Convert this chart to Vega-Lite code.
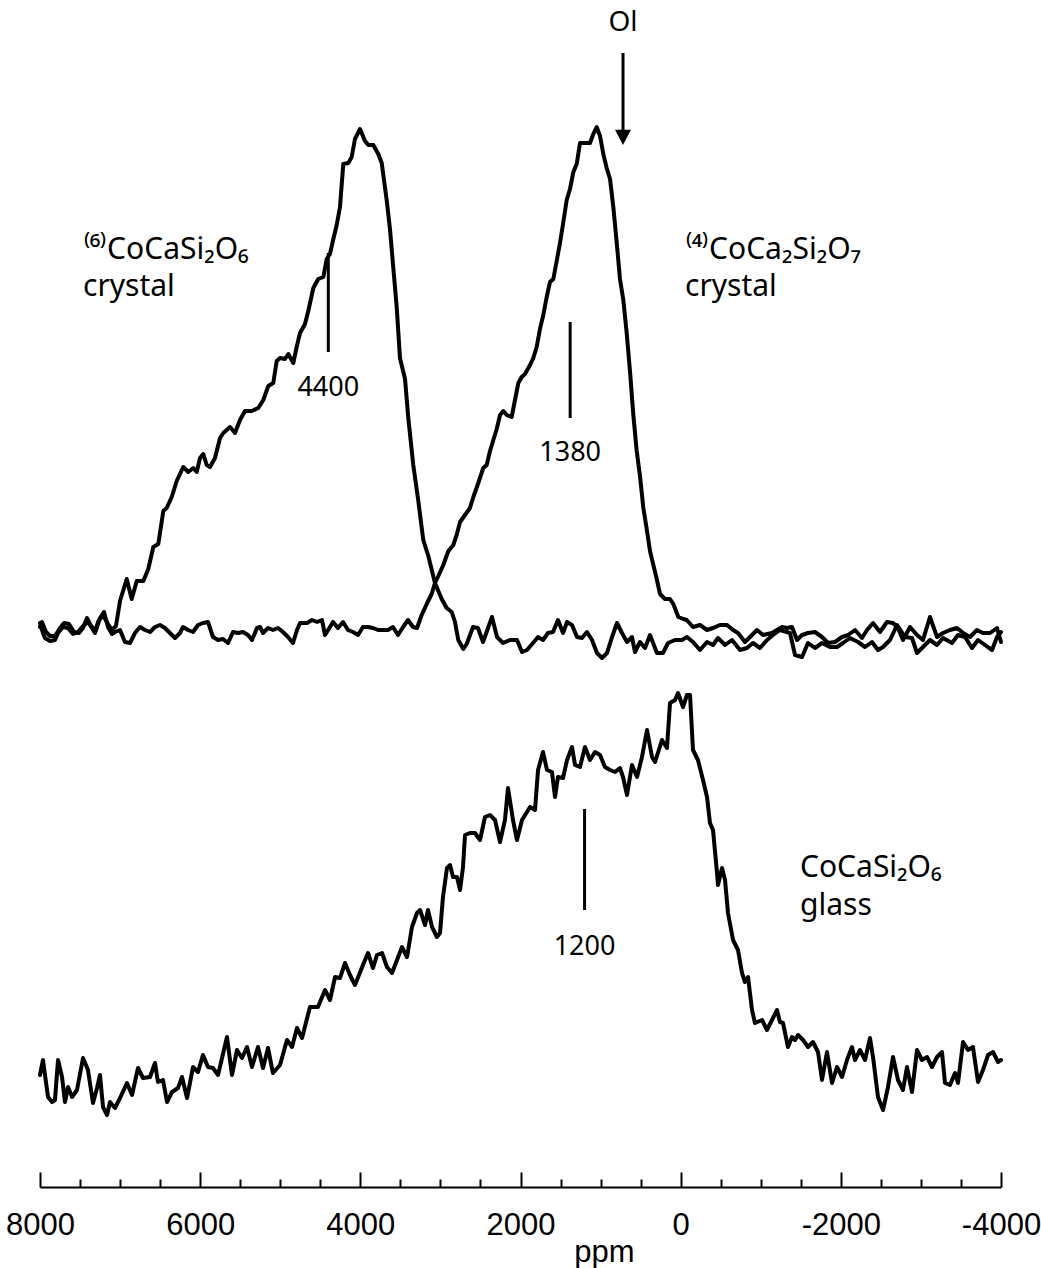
{
  "$schema": "https://vega.github.io/schema/vega-lite/v6.json",
  "width": 961,
  "height": 1187,
  "autosize": {"type": "none"},
  "padding": {"left": 40, "right": 40, "top": 0, "bottom": 81},
  "background": "white",
  "config": {"view": {"stroke": null}},
  "datasets": {
    "spectra": [
      {"spectrum":"Co6","ppm":8000,"intensity":5.64},{"spectrum":"Co6","ppm":7975,"intensity":5.57},{"spectrum":"Co6","ppm":7938,"intensity":5.49},{"spectrum":"Co6","ppm":7875,"intensity":5.46},{"spectrum":"Co6","ppm":7813,"intensity":5.47},{"spectrum":"Co6","ppm":7775,"intensity":5.54},{"spectrum":"Co6","ppm":7713,"intensity":5.60},{"spectrum":"Co6","ppm":7650,"intensity":5.59},{"spectrum":"Co6","ppm":7588,"intensity":5.53},{"spectrum":"Co6","ppm":7525,"intensity":5.55},{"spectrum":"Co6","ppm":7463,"intensity":5.61},{"spectrum":"Co6","ppm":7401,"intensity":5.65},{"spectrum":"Co6","ppm":7351,"intensity":5.59},{"spectrum":"Co6","ppm":7313,"intensity":5.54},{"spectrum":"Co6","ppm":7276,"intensity":5.65},{"spectrum":"Co6","ppm":7213,"intensity":5.72},{"spectrum":"Co6","ppm":7151,"intensity":5.63},{"spectrum":"Co6","ppm":7101,"intensity":5.57},{"spectrum":"Co6","ppm":7051,"intensity":5.61},
      {"spectrum":"Co6","ppm":7001,"intensity":5.86},{"spectrum":"Co6","ppm":6917,"intensity":6.08},{"spectrum":"Co6","ppm":6855,"intensity":5.88},{"spectrum":"Co6","ppm":6792,"intensity":6.06},{"spectrum":"Co6","ppm":6710,"intensity":6.06},{"spectrum":"Co6","ppm":6648,"intensity":6.18},{"spectrum":"Co6","ppm":6585,"intensity":6.40},{"spectrum":"Co6","ppm":6523,"intensity":6.43},{"spectrum":"Co6","ppm":6460,"intensity":6.76},{"spectrum":"Co6","ppm":6418,"intensity":6.79},{"spectrum":"Co6","ppm":6355,"intensity":6.90},{"spectrum":"Co6","ppm":6293,"intensity":7.06},{"spectrum":"Co6","ppm":6211,"intensity":7.20},{"spectrum":"Co6","ppm":6148,"intensity":7.15},{"spectrum":"Co6","ppm":6086,"intensity":7.19},{"spectrum":"Co6","ppm":6043,"intensity":7.15},{"spectrum":"Co6","ppm":6002,"intensity":7.29},{"spectrum":"Co6","ppm":5961,"intensity":7.33},{"spectrum":"Co6","ppm":5918,"intensity":7.22},{"spectrum":"Co6","ppm":5877,"intensity":7.20},{"spectrum":"Co6","ppm":5815,"intensity":7.29},{"spectrum":"Co6","ppm":5752,"intensity":7.49},{"spectrum":"Co6","ppm":5711,"intensity":7.54},{"spectrum":"Co6","ppm":5627,"intensity":7.60},{"spectrum":"Co6","ppm":5565,"intensity":7.54},{"spectrum":"Co6","ppm":5503,"intensity":7.67},{"spectrum":"Co6","ppm":5440,"intensity":7.76},{"spectrum":"Co6","ppm":5357,"intensity":7.76},{"spectrum":"Co6","ppm":5274,"intensity":7.79},{"spectrum":"Co6","ppm":5212,"intensity":7.87},{"spectrum":"Co6","ppm":5149,"intensity":8.01},{"spectrum":"Co6","ppm":5087,"intensity":8.04},{"spectrum":"Co6","ppm":5044,"intensity":8.26},{"spectrum":"Co6","ppm":5003,"intensity":8.29},{"spectrum":"Co6","ppm":4941,"intensity":8.28},{"spectrum":"Co6","ppm":4899,"intensity":8.33},{"spectrum":"Co6","ppm":4837,"intensity":8.24},{"spectrum":"Co6","ppm":4795,"intensity":8.40},{"spectrum":"Co6","ppm":4753,"intensity":8.54},{"spectrum":"Co6","ppm":4691,"intensity":8.63},{"spectrum":"Co6","ppm":4650,"intensity":8.76},{"spectrum":"Co6","ppm":4587,"intensity":8.99},{"spectrum":"Co6","ppm":4525,"intensity":9.08},{"spectrum":"Co6","ppm":4462,"intensity":9.10},{"spectrum":"Co6","ppm":4420,"intensity":9.28},{"spectrum":"Co6","ppm":4379,"intensity":9.33},{"spectrum":"Co6","ppm":4337,"intensity":9.48},{"spectrum":"Co6","ppm":4295,"intensity":9.62},{"spectrum":"Co6","ppm":4254,"intensity":9.80},{"spectrum":"Co6","ppm":4213,"intensity":10.23},{"spectrum":"Co6","ppm":4150,"intensity":10.24},{"spectrum":"Co6","ppm":4108,"intensity":10.30},{"spectrum":"Co6","ppm":4067,"intensity":10.48},{"spectrum":"Co6","ppm":4004,"intensity":10.58},{"spectrum":"Co6","ppm":3942,"intensity":10.46},{"spectrum":"Co6","ppm":3900,"intensity":10.42},{"spectrum":"Co6","ppm":3838,"intensity":10.42},{"spectrum":"Co6","ppm":3776,"intensity":10.33},{"spectrum":"Co6","ppm":3733,"intensity":10.24},{"spectrum":"Co6","ppm":3671,"intensity":9.87},{"spectrum":"Co6","ppm":3630,"intensity":9.58},{"spectrum":"Co6","ppm":3588,"intensity":9.19},{"spectrum":"Co6","ppm":3546,"intensity":8.80},{"spectrum":"Co6","ppm":3505,"intensity":8.29},{"spectrum":"Co6","ppm":3442,"intensity":8.08},{"spectrum":"Co6","ppm":3401,"intensity":7.69},{"spectrum":"Co6","ppm":3339,"intensity":7.22},{"spectrum":"Co6","ppm":3276,"intensity":6.86},{"spectrum":"Co6","ppm":3214,"intensity":6.47},{"spectrum":"Co6","ppm":3151,"intensity":6.31},{"spectrum":"Co6","ppm":3068,"intensity":6.04},{"spectrum":"Co6","ppm":2984,"intensity":5.88},{"spectrum":"Co6","ppm":2922,"intensity":5.79},{"spectrum":"Co6","ppm":2859,"intensity":5.75},{"spectrum":"Co6","ppm":2818,"intensity":5.65},{"spectrum":"Co6","ppm":2777,"intensity":5.47},{"spectrum":"Co6","ppm":2714,"intensity":5.38},{"spectrum":"Co6","ppm":2672,"intensity":5.43},
      {"spectrum":"Co6","ppm":2593,"intensity":5.60},{"spectrum":"Co6","ppm":2531,"intensity":5.59},{"spectrum":"Co6","ppm":2468,"intensity":5.45},{"spectrum":"Co6","ppm":2356,"intensity":5.70},{"spectrum":"Co6","ppm":2293,"intensity":5.50},{"spectrum":"Co6","ppm":2219,"intensity":5.44},{"spectrum":"Co6","ppm":2131,"intensity":5.47},{"spectrum":"Co6","ppm":2044,"intensity":5.47},{"spectrum":"Co6","ppm":1981,"intensity":5.35},{"spectrum":"Co6","ppm":1919,"intensity":5.37},{"spectrum":"Co6","ppm":1844,"intensity":5.44},{"spectrum":"Co6","ppm":1781,"intensity":5.50},{"spectrum":"Co6","ppm":1719,"intensity":5.47},{"spectrum":"Co6","ppm":1657,"intensity":5.54},{"spectrum":"Co6","ppm":1594,"intensity":5.55},{"spectrum":"Co6","ppm":1532,"intensity":5.67},{"spectrum":"Co6","ppm":1469,"intensity":5.54},{"spectrum":"Co6","ppm":1419,"intensity":5.65},{"spectrum":"Co6","ppm":1357,"intensity":5.62},{"spectrum":"Co6","ppm":1294,"intensity":5.50},{"spectrum":"Co6","ppm":1232,"intensity":5.49},{"spectrum":"Co6","ppm":1170,"intensity":5.55},{"spectrum":"Co6","ppm":1107,"intensity":5.47},{"spectrum":"Co6","ppm":1045,"intensity":5.34},{"spectrum":"Co6","ppm":982,"intensity":5.29},{"spectrum":"Co6","ppm":920,"intensity":5.34},{"spectrum":"Co6","ppm":857,"intensity":5.50},{"spectrum":"Co6","ppm":795,"intensity":5.64},{"spectrum":"Co6","ppm":733,"intensity":5.54},{"spectrum":"Co6","ppm":670,"intensity":5.45},{"spectrum":"Co6","ppm":608,"intensity":5.50},{"spectrum":"Co6","ppm":570,"intensity":5.35},{"spectrum":"Co6","ppm":508,"intensity":5.45},{"spectrum":"Co6","ppm":445,"intensity":5.39},{"spectrum":"Co6","ppm":383,"intensity":5.52},{"spectrum":"Co6","ppm":296,"intensity":5.34},{"spectrum":"Co6","ppm":221,"intensity":5.34},{"spectrum":"Co6","ppm":158,"intensity":5.44},{"spectrum":"Co6","ppm":71,"intensity":5.47},{"spectrum":"Co6","ppm":-17,"intensity":5.47},{"spectrum":"Co6","ppm":-79,"intensity":5.50},{"spectrum":"Co6","ppm":-154,"intensity":5.45},{"spectrum":"Co6","ppm":-241,"intensity":5.37},{"spectrum":"Co6","ppm":-329,"intensity":5.45},{"spectrum":"Co6","ppm":-404,"intensity":5.42},{"spectrum":"Co6","ppm":-466,"intensity":5.49},{"spectrum":"Co6","ppm":-554,"intensity":5.42},{"spectrum":"Co6","ppm":-641,"intensity":5.47},{"spectrum":"Co6","ppm":-741,"intensity":5.37},{"spectrum":"Co6","ppm":-828,"intensity":5.39},{"spectrum":"Co6","ppm":-903,"intensity":5.44},{"spectrum":"Co6","ppm":-991,"intensity":5.39},{"spectrum":"Co6","ppm":-1078,"intensity":5.47},{"spectrum":"Co6","ppm":-1153,"intensity":5.52},{"spectrum":"Co6","ppm":-1240,"intensity":5.57},{"spectrum":"Co6","ppm":-1365,"intensity":5.54},{"spectrum":"Co6","ppm":-1428,"intensity":5.32},{"spectrum":"Co6","ppm":-1515,"intensity":5.30},{"spectrum":"Co6","ppm":-1590,"intensity":5.44},{"spectrum":"Co6","ppm":-1677,"intensity":5.39},{"spectrum":"Co6","ppm":-1765,"intensity":5.44},{"spectrum":"Co6","ppm":-1865,"intensity":5.40},{"spectrum":"Co6","ppm":-1952,"intensity":5.40},{"spectrum":"Co6","ppm":-2027,"intensity":5.44},{"spectrum":"Co6","ppm":-2114,"intensity":5.49},{"spectrum":"Co6","ppm":-2214,"intensity":5.45},{"spectrum":"Co6","ppm":-2302,"intensity":5.40},{"spectrum":"Co6","ppm":-2389,"intensity":5.45},{"spectrum":"Co6","ppm":-2464,"intensity":5.37},{"spectrum":"Co6","ppm":-2527,"intensity":5.40},{"spectrum":"Co6","ppm":-2614,"intensity":5.47},{"spectrum":"Co6","ppm":-2702,"intensity":5.62},{"spectrum":"Co6","ppm":-2801,"intensity":5.50},{"spectrum":"Co6","ppm":-2889,"intensity":5.49},{"spectrum":"Co6","ppm":-2951,"intensity":5.34},{"spectrum":"Co6","ppm":-3026,"intensity":5.40},{"spectrum":"Co6","ppm":-3113,"intensity":5.47},{"spectrum":"Co6","ppm":-3201,"intensity":5.42},{"spectrum":"Co6","ppm":-3276,"intensity":5.49},{"spectrum":"Co6","ppm":-3388,"intensity":5.44},{"spectrum":"Co6","ppm":-3463,"intensity":5.52},{"spectrum":"Co6","ppm":-3550,"intensity":5.50},{"spectrum":"Co6","ppm":-3638,"intensity":5.39},{"spectrum":"Co6","ppm":-3713,"intensity":5.47},{"spectrum":"Co6","ppm":-3800,"intensity":5.42},{"spectrum":"Co6","ppm":-3888,"intensity":5.37},{"spectrum":"Co6","ppm":-3950,"intensity":5.50},{"spectrum":"Co6","ppm":-4000,"intensity":5.55},

      {"spectrum":"Co4","ppm":8000,"intensity":5.60},{"spectrum":"Co4","ppm":7975,"intensity":5.65},{"spectrum":"Co4","ppm":7925,"intensity":5.55},{"spectrum":"Co4","ppm":7875,"intensity":5.51},{"spectrum":"Co4","ppm":7813,"intensity":5.51},{"spectrum":"Co4","ppm":7750,"intensity":5.59},{"spectrum":"Co4","ppm":7700,"intensity":5.64},{"spectrum":"Co4","ppm":7638,"intensity":5.63},{"spectrum":"Co4","ppm":7575,"intensity":5.55},{"spectrum":"Co4","ppm":7513,"intensity":5.54},{"spectrum":"Co4","ppm":7463,"intensity":5.59},{"spectrum":"Co4","ppm":7413,"intensity":5.69},{"spectrum":"Co4","ppm":7363,"intensity":5.61},{"spectrum":"Co4","ppm":7301,"intensity":5.57},{"spectrum":"Co4","ppm":7251,"intensity":5.69},{"spectrum":"Co4","ppm":7201,"intensity":5.75},{"spectrum":"Co4","ppm":7151,"intensity":5.60},{"spectrum":"Co4","ppm":7101,"intensity":5.53},{"spectrum":"Co4","ppm":7063,"intensity":5.55},{"spectrum":"Co4","ppm":7001,"intensity":5.57},{"spectrum":"Co4","ppm":6939,"intensity":5.45},{"spectrum":"Co4","ppm":6876,"intensity":5.44},{"spectrum":"Co4","ppm":6814,"intensity":5.54},{"spectrum":"Co4","ppm":6751,"intensity":5.60},{"spectrum":"Co4","ppm":6689,"intensity":5.57},{"spectrum":"Co4","ppm":6626,"intensity":5.55},{"spectrum":"Co4","ppm":6564,"intensity":5.60},{"spectrum":"Co4","ppm":6502,"intensity":5.62},{"spectrum":"Co4","ppm":6439,"intensity":5.59},{"spectrum":"Co4","ppm":6377,"intensity":5.54},{"spectrum":"Co4","ppm":6314,"intensity":5.49},{"spectrum":"Co4","ppm":6252,"intensity":5.54},{"spectrum":"Co4","ppm":6214,"intensity":5.60},{"spectrum":"Co4","ppm":6152,"intensity":5.57},{"spectrum":"Co4","ppm":6089,"intensity":5.55},{"spectrum":"Co4","ppm":6027,"intensity":5.62},{"spectrum":"Co4","ppm":5965,"intensity":5.64},{"spectrum":"Co4","ppm":5902,"intensity":5.65},{"spectrum":"Co4","ppm":5840,"intensity":5.50},{"spectrum":"Co4","ppm":5777,"intensity":5.47},{"spectrum":"Co4","ppm":5715,"intensity":5.48},{"spectrum":"Co4","ppm":5652,"intensity":5.44},{"spectrum":"Co4","ppm":5590,"intensity":5.55},{"spectrum":"Co4","ppm":5528,"intensity":5.54},{"spectrum":"Co4","ppm":5465,"intensity":5.55},{"spectrum":"Co4","ppm":5403,"intensity":5.52},{"spectrum":"Co4","ppm":5353,"intensity":5.47},{"spectrum":"Co4","ppm":5290,"intensity":5.59},{"spectrum":"Co4","ppm":5253,"intensity":5.60},{"spectrum":"Co4","ppm":5215,"intensity":5.54},{"spectrum":"Co4","ppm":5153,"intensity":5.59},{"spectrum":"Co4","ppm":5091,"intensity":5.57},{"spectrum":"Co4","ppm":5028,"intensity":5.59},{"spectrum":"Co4","ppm":4966,"intensity":5.55},{"spectrum":"Co4","ppm":4903,"intensity":5.50},{"spectrum":"Co4","ppm":4841,"intensity":5.44},{"spectrum":"Co4","ppm":4791,"intensity":5.57},{"spectrum":"Co4","ppm":4753,"intensity":5.64},{"spectrum":"Co4","ppm":4666,"intensity":5.64},{"spectrum":"Co4","ppm":4604,"intensity":5.67},{"spectrum":"Co4","ppm":4541,"intensity":5.65},{"spectrum":"Co4","ppm":4479,"intensity":5.67},{"spectrum":"Co4","ppm":4441,"intensity":5.52},{"spectrum":"Co4","ppm":4379,"intensity":5.60},{"spectrum":"Co4","ppm":4341,"intensity":5.65},{"spectrum":"Co4","ppm":4279,"intensity":5.59},{"spectrum":"Co4","ppm":4216,"intensity":5.65},{"spectrum":"Co4","ppm":4154,"intensity":5.57},{"spectrum":"Co4","ppm":4092,"intensity":5.55},{"spectrum":"Co4","ppm":4029,"intensity":5.52},{"spectrum":"Co4","ppm":3967,"intensity":5.60},{"spectrum":"Co4","ppm":3904,"intensity":5.60},{"spectrum":"Co4","ppm":3842,"intensity":5.59},{"spectrum":"Co4","ppm":3779,"intensity":5.57},{"spectrum":"Co4","ppm":3717,"intensity":5.57},{"spectrum":"Co4","ppm":3655,"intensity":5.57},{"spectrum":"Co4","ppm":3592,"intensity":5.60},{"spectrum":"Co4","ppm":3530,"intensity":5.52},{"spectrum":"Co4","ppm":3467,"intensity":5.60},{"spectrum":"Co4","ppm":3405,"intensity":5.67},{"spectrum":"Co4","ppm":3342,"intensity":5.60},{"spectrum":"Co4","ppm":3292,"intensity":5.59},
      {"spectrum":"Co4","ppm":3234,"intensity":5.72},{"spectrum":"Co4","ppm":3171,"intensity":5.83},{"spectrum":"Co4","ppm":3109,"intensity":5.93},{"spectrum":"Co4","ppm":3068,"intensity":6.04},{"spectrum":"Co4","ppm":3026,"intensity":6.11},{"spectrum":"Co4","ppm":2964,"intensity":6.22},{"spectrum":"Co4","ppm":2901,"intensity":6.36},{"spectrum":"Co4","ppm":2839,"intensity":6.42},{"spectrum":"Co4","ppm":2797,"intensity":6.52},{"spectrum":"Co4","ppm":2755,"intensity":6.65},{"spectrum":"Co4","ppm":2693,"intensity":6.72},{"spectrum":"Co4","ppm":2631,"intensity":6.79},{"spectrum":"Co4","ppm":2589,"intensity":6.90},{"spectrum":"Co4","ppm":2527,"intensity":7.04},{"spectrum":"Co4","ppm":2465,"intensity":7.19},{"spectrum":"Co4","ppm":2422,"intensity":7.22},{"spectrum":"Co4","ppm":2381,"intensity":7.36},{"spectrum":"Co4","ppm":2339,"intensity":7.47},{"spectrum":"Co4","ppm":2297,"intensity":7.58},{"spectrum":"Co4","ppm":2256,"intensity":7.72},{"spectrum":"Co4","ppm":2215,"intensity":7.76},{"spectrum":"Co4","ppm":2172,"intensity":7.72},{"spectrum":"Co4","ppm":2110,"intensity":7.70},{"spectrum":"Co4","ppm":2069,"intensity":7.87},{"spectrum":"Co4","ppm":2027,"intensity":8.04},{"spectrum":"Co4","ppm":1985,"intensity":8.10},{"spectrum":"Co4","ppm":1944,"intensity":8.13},{"spectrum":"Co4","ppm":1881,"intensity":8.22},{"spectrum":"Co4","ppm":1840,"intensity":8.29},{"spectrum":"Co4","ppm":1798,"intensity":8.40},{"spectrum":"Co4","ppm":1757,"intensity":8.58},{"spectrum":"Co4","ppm":1715,"intensity":8.72},{"spectrum":"Co4","ppm":1673,"intensity":8.90},{"spectrum":"Co4","ppm":1632,"intensity":9.05},{"spectrum":"Co4","ppm":1590,"intensity":9.08},{"spectrum":"Co4","ppm":1548,"intensity":9.26},{"spectrum":"Co4","ppm":1507,"intensity":9.44},{"spectrum":"Co4","ppm":1465,"intensity":9.65},{"spectrum":"Co4","ppm":1423,"intensity":9.87},{"spectrum":"Co4","ppm":1382,"intensity":9.98},{"spectrum":"Co4","ppm":1340,"intensity":10.15},{"spectrum":"Co4","ppm":1298,"intensity":10.23},{"spectrum":"Co4","ppm":1257,"intensity":10.44},{"spectrum":"Co4","ppm":1195,"intensity":10.44},{"spectrum":"Co4","ppm":1132,"intensity":10.44},{"spectrum":"Co4","ppm":1091,"intensity":10.53},{"spectrum":"Co4","ppm":1049,"intensity":10.60},{"spectrum":"Co4","ppm":1007,"intensity":10.51},{"spectrum":"Co4","ppm":966,"intensity":10.33},{"spectrum":"Co4","ppm":924,"intensity":10.19},{"spectrum":"Co4","ppm":882,"intensity":10.08},{"spectrum":"Co4","ppm":841,"intensity":9.80},{"spectrum":"Co4","ppm":798,"intensity":9.44},{"spectrum":"Co4","ppm":758,"intensity":9.08},{"spectrum":"Co4","ppm":716,"intensity":8.87},{"spectrum":"Co4","ppm":674,"intensity":8.54},{"spectrum":"Co4","ppm":632,"intensity":8.15},{"spectrum":"Co4","ppm":591,"intensity":7.72},{"spectrum":"Co4","ppm":549,"intensity":7.36},{"spectrum":"Co4","ppm":508,"intensity":7.11},{"spectrum":"Co4","ppm":466,"intensity":6.79},{"spectrum":"Co4","ppm":424,"intensity":6.58},{"spectrum":"Co4","ppm":383,"intensity":6.36},{"spectrum":"Co4","ppm":341,"intensity":6.22},{"spectrum":"Co4","ppm":299,"intensity":6.08},{"spectrum":"Co4","ppm":258,"intensity":5.93},{"spectrum":"Co4","ppm":196,"intensity":5.88},{"spectrum":"Co4","ppm":133,"intensity":5.88},{"spectrum":"Co4","ppm":92,"intensity":5.83},{"spectrum":"Co4","ppm":29,"intensity":5.70},{"spectrum":"Co4","ppm":-33,"intensity":5.68},{"spectrum":"Co4","ppm":-75,"intensity":5.67},{"spectrum":"Co4","ppm":-154,"intensity":5.60},
      {"spectrum":"Co4","ppm":-241,"intensity":5.62},{"spectrum":"Co4","ppm":-329,"intensity":5.57},{"spectrum":"Co4","ppm":-404,"intensity":5.59},{"spectrum":"Co4","ppm":-491,"intensity":5.62},{"spectrum":"Co4","ppm":-579,"intensity":5.62},{"spectrum":"Co4","ppm":-654,"intensity":5.57},{"spectrum":"Co4","ppm":-716,"intensity":5.54},{"spectrum":"Co4","ppm":-803,"intensity":5.45},{"spectrum":"Co4","ppm":-866,"intensity":5.50},{"spectrum":"Co4","ppm":-953,"intensity":5.57},{"spectrum":"Co4","ppm":-1028,"intensity":5.52},{"spectrum":"Co4","ppm":-1140,"intensity":5.54},{"spectrum":"Co4","ppm":-1203,"intensity":5.57},{"spectrum":"Co4","ppm":-1265,"intensity":5.60},{"spectrum":"Co4","ppm":-1328,"intensity":5.59},{"spectrum":"Co4","ppm":-1390,"intensity":5.60},{"spectrum":"Co4","ppm":-1453,"intensity":5.47},{"spectrum":"Co4","ppm":-1515,"intensity":5.52},{"spectrum":"Co4","ppm":-1590,"intensity":5.54},{"spectrum":"Co4","ppm":-1677,"intensity":5.55},{"spectrum":"Co4","ppm":-1765,"intensity":5.50},{"spectrum":"Co4","ppm":-1840,"intensity":5.44},{"spectrum":"Co4","ppm":-1927,"intensity":5.45},{"spectrum":"Co4","ppm":-2015,"intensity":5.50},{"spectrum":"Co4","ppm":-2090,"intensity":5.52},{"spectrum":"Co4","ppm":-2177,"intensity":5.57},{"spectrum":"Co4","ppm":-2264,"intensity":5.49},{"spectrum":"Co4","ppm":-2327,"intensity":5.57},{"spectrum":"Co4","ppm":-2402,"intensity":5.64},{"spectrum":"Co4","ppm":-2489,"intensity":5.55},{"spectrum":"Co4","ppm":-2576,"intensity":5.65},{"spectrum":"Co4","ppm":-2651,"intensity":5.64},{"spectrum":"Co4","ppm":-2714,"intensity":5.59},{"spectrum":"Co4","ppm":-2776,"intensity":5.47},{"spectrum":"Co4","ppm":-2864,"intensity":5.60},{"spectrum":"Co4","ppm":-2951,"intensity":5.52},{"spectrum":"Co4","ppm":-3026,"intensity":5.47},{"spectrum":"Co4","ppm":-3113,"intensity":5.70},{"spectrum":"Co4","ppm":-3201,"intensity":5.50},{"spectrum":"Co4","ppm":-3276,"intensity":5.54},{"spectrum":"Co4","ppm":-3363,"intensity":5.57},{"spectrum":"Co4","ppm":-3451,"intensity":5.59},{"spectrum":"Co4","ppm":-3526,"intensity":5.54},{"spectrum":"Co4","ppm":-3613,"intensity":5.50},{"spectrum":"Co4","ppm":-3700,"intensity":5.57},{"spectrum":"Co4","ppm":-3775,"intensity":5.54},{"spectrum":"Co4","ppm":-3863,"intensity":5.54},{"spectrum":"Co4","ppm":-3950,"intensity":5.59},{"spectrum":"Co4","ppm":-4000,"intensity":5.45},

      {"spectrum":"glass","ppm":8000,"intensity":1.12},{"spectrum":"glass","ppm":7963,"intensity":1.27},{"spectrum":"glass","ppm":7900,"intensity":0.90},{"spectrum":"glass","ppm":7850,"intensity":0.85},{"spectrum":"glass","ppm":7813,"intensity":0.87},{"spectrum":"glass","ppm":7775,"intensity":1.27},{"spectrum":"glass","ppm":7725,"intensity":1.10},{"spectrum":"glass","ppm":7688,"intensity":0.85},{"spectrum":"glass","ppm":7650,"intensity":1.00},{"spectrum":"glass","ppm":7600,"intensity":0.90},{"spectrum":"glass","ppm":7538,"intensity":0.97},{"spectrum":"glass","ppm":7463,"intensity":1.29},{"spectrum":"glass","ppm":7401,"intensity":1.17},{"spectrum":"glass","ppm":7338,"intensity":0.84},{"spectrum":"glass","ppm":7288,"intensity":0.99},{"spectrum":"glass","ppm":7251,"intensity":1.12},{"spectrum":"glass","ppm":7213,"intensity":0.80},{"spectrum":"glass","ppm":7163,"intensity":0.72},{"spectrum":"glass","ppm":7126,"intensity":0.85},{"spectrum":"glass","ppm":7063,"intensity":0.79},{"spectrum":"glass","ppm":7001,"intensity":0.89},{"spectrum":"glass","ppm":6914,"intensity":1.04},{"spectrum":"glass","ppm":6851,"intensity":0.92},{"spectrum":"glass","ppm":6776,"intensity":1.19},{"spectrum":"glass","ppm":6714,"intensity":1.09},{"spectrum":"glass","ppm":6626,"intensity":1.10},{"spectrum":"glass","ppm":6564,"intensity":1.24},{"spectrum":"glass","ppm":6527,"intensity":1.05},{"spectrum":"glass","ppm":6464,"intensity":1.07},{"spectrum":"glass","ppm":6414,"intensity":0.85},{"spectrum":"glass","ppm":6352,"intensity":0.95},{"spectrum":"glass","ppm":6277,"intensity":0.99},{"spectrum":"glass","ppm":6227,"intensity":1.10},{"spectrum":"glass","ppm":6164,"intensity":0.89},{"spectrum":"glass","ppm":6089,"intensity":1.20},{"spectrum":"glass","ppm":6027,"intensity":1.15},{"spectrum":"glass","ppm":5965,"intensity":1.32},{"spectrum":"glass","ppm":5902,"intensity":1.20},{"spectrum":"glass","ppm":5840,"intensity":1.19},{"spectrum":"glass","ppm":5777,"intensity":1.12},{"spectrum":"glass","ppm":5665,"intensity":1.50},{"spectrum":"glass","ppm":5603,"intensity":1.12},{"spectrum":"glass","ppm":5540,"intensity":1.37},{"spectrum":"glass","ppm":5478,"intensity":1.29},{"spectrum":"glass","ppm":5415,"intensity":1.40},{"spectrum":"glass","ppm":5353,"intensity":1.20},{"spectrum":"glass","ppm":5278,"intensity":1.40},{"spectrum":"glass","ppm":5215,"intensity":1.19},{"spectrum":"glass","ppm":5153,"intensity":1.39},{"spectrum":"glass","ppm":5091,"intensity":1.14},{"spectrum":"glass","ppm":5003,"intensity":1.22},{"spectrum":"glass","ppm":4916,"intensity":1.47},{"spectrum":"glass","ppm":4853,"intensity":1.40},{"spectrum":"glass","ppm":4791,"intensity":1.59},{"spectrum":"glass","ppm":4728,"intensity":1.49},{"spectrum":"glass","ppm":4629,"intensity":1.80},{"spectrum":"glass","ppm":4529,"intensity":1.80},{"spectrum":"glass","ppm":4441,"intensity":1.97},{"spectrum":"glass","ppm":4379,"intensity":1.87},{"spectrum":"glass","ppm":4316,"intensity":2.10},{"spectrum":"glass","ppm":4254,"intensity":2.09},{"spectrum":"glass","ppm":4191,"intensity":2.24},{"spectrum":"glass","ppm":4129,"intensity":2.12},{"spectrum":"glass","ppm":4067,"intensity":2.02},{"spectrum":"glass","ppm":3967,"intensity":2.22},{"spectrum":"glass","ppm":3904,"intensity":2.34},{"spectrum":"glass","ppm":3842,"intensity":2.19},{"spectrum":"glass","ppm":3792,"intensity":2.32},{"spectrum":"glass","ppm":3729,"intensity":2.34},{"spectrum":"glass","ppm":3667,"intensity":2.20},{"spectrum":"glass","ppm":3605,"intensity":2.14},{"spectrum":"glass","ppm":3542,"intensity":2.27},{"spectrum":"glass","ppm":3480,"intensity":2.40},{"spectrum":"glass","ppm":3417,"intensity":2.30},{"spectrum":"glass","ppm":3355,"intensity":2.60},{"spectrum":"glass","ppm":3292,"intensity":2.74},{"spectrum":"glass","ppm":3255,"intensity":2.77},{"spectrum":"glass","ppm":3192,"intensity":2.62},{"spectrum":"glass","ppm":3155,"intensity":2.77},{"spectrum":"glass","ppm":3105,"intensity":2.60},{"spectrum":"glass","ppm":3043,"intensity":2.50},{"spectrum":"glass","ppm":3005,"intensity":2.54},{"spectrum":"glass","ppm":2968,"intensity":2.90},{"spectrum":"glass","ppm":2918,"intensity":3.19},{"spectrum":"glass","ppm":2880,"intensity":3.22},{"spectrum":"glass","ppm":2843,"intensity":3.10},{"spectrum":"glass","ppm":2793,"intensity":3.10},{"spectrum":"glass","ppm":2755,"intensity":2.97},{"spectrum":"glass","ppm":2718,"intensity":3.20},{"spectrum":"glass","ppm":2693,"intensity":3.52},{"spectrum":"glass","ppm":2631,"intensity":3.54},{"spectrum":"glass","ppm":2568,"intensity":3.54},{"spectrum":"glass","ppm":2506,"intensity":3.47},{"spectrum":"glass","ppm":2443,"intensity":3.70},{"spectrum":"glass","ppm":2381,"intensity":3.72},{"spectrum":"glass","ppm":2318,"intensity":3.67},{"spectrum":"glass","ppm":2256,"intensity":3.45},{"spectrum":"glass","ppm":2194,"intensity":3.67},{"spectrum":"glass","ppm":2156,"intensity":3.99},{"spectrum":"glass","ppm":2094,"intensity":3.67},{"spectrum":"glass","ppm":2044,"intensity":3.47},{"spectrum":"glass","ppm":1981,"intensity":3.67},{"spectrum":"glass","ppm":1919,"intensity":3.75},{"spectrum":"glass","ppm":1881,"intensity":3.80},{"spectrum":"glass","ppm":1819,"intensity":3.77},{"spectrum":"glass","ppm":1781,"intensity":4.17},{"spectrum":"glass","ppm":1719,"intensity":4.35},{"spectrum":"glass","ppm":1669,"intensity":4.17},{"spectrum":"glass","ppm":1607,"intensity":4.15},{"spectrum":"glass","ppm":1569,"intensity":3.90},{"spectrum":"glass","ppm":1532,"intensity":4.10},{"spectrum":"glass","ppm":1469,"intensity":4.09},{"spectrum":"glass","ppm":1419,"intensity":4.27},{"spectrum":"glass","ppm":1357,"intensity":4.40},{"spectrum":"glass","ppm":1319,"intensity":4.22},{"spectrum":"glass","ppm":1257,"intensity":4.20},{"spectrum":"glass","ppm":1195,"intensity":4.40},{"spectrum":"glass","ppm":1132,"intensity":4.27},{"spectrum":"glass","ppm":1070,"intensity":4.35},{"spectrum":"glass","ppm":1007,"intensity":4.32},{"spectrum":"glass","ppm":945,"intensity":4.20},{"spectrum":"glass","ppm":882,"intensity":4.17},{"spectrum":"glass","ppm":820,"intensity":4.15},{"spectrum":"glass","ppm":758,"intensity":4.19},{"spectrum":"glass","ppm":720,"intensity":4.10},{"spectrum":"glass","ppm":670,"intensity":3.92},{"spectrum":"glass","ppm":608,"intensity":4.22},{"spectrum":"glass","ppm":545,"intensity":4.10},{"spectrum":"glass","ppm":483,"intensity":4.30},{"spectrum":"glass","ppm":420,"intensity":4.57},{"spectrum":"glass","ppm":358,"intensity":4.30},{"spectrum":"glass","ppm":320,"intensity":4.25},{"spectrum":"glass","ppm":233,"intensity":4.47},{"spectrum":"glass","ppm":171,"intensity":4.39},{"spectrum":"glass","ppm":133,"intensity":4.84},{"spectrum":"glass","ppm":71,"intensity":4.87},{"spectrum":"glass","ppm":33,"intensity":4.94},{"spectrum":"glass","ppm":-29,"intensity":4.80},{"spectrum":"glass","ppm":-79,"intensity":4.92},{"spectrum":"glass","ppm":-117,"intensity":4.92},{"spectrum":"glass","ppm":-154,"intensity":4.37},{"spectrum":"glass","ppm":-216,"intensity":4.27},{"spectrum":"glass","ppm":-279,"intensity":4.07},{"spectrum":"glass","ppm":-329,"intensity":3.90},{"spectrum":"glass","ppm":-366,"intensity":3.64},{"spectrum":"glass","ppm":-404,"intensity":3.57},{"spectrum":"glass","ppm":-454,"intensity":3.14},{"spectrum":"glass","ppm":-466,"intensity":3.02},{"spectrum":"glass","ppm":-516,"intensity":3.19},{"spectrum":"glass","ppm":-554,"intensity":3.07},{"spectrum":"glass","ppm":-591,"intensity":2.74},{"spectrum":"glass","ppm":-654,"intensity":2.47},{"spectrum":"glass","ppm":-716,"intensity":2.37},{"spectrum":"glass","ppm":-766,"intensity":2.14},{"spectrum":"glass","ppm":-803,"intensity":2.05},{"spectrum":"glass","ppm":-841,"intensity":2.10},{"spectrum":"glass","ppm":-891,"intensity":1.77},{"spectrum":"glass","ppm":-928,"intensity":1.64},{"spectrum":"glass","ppm":-1016,"intensity":1.67},{"spectrum":"glass","ppm":-1078,"intensity":1.57},{"spectrum":"glass","ppm":-1140,"intensity":1.67},{"spectrum":"glass","ppm":-1203,"intensity":1.77},{"spectrum":"glass","ppm":-1240,"intensity":1.65},{"spectrum":"glass","ppm":-1278,"intensity":1.64},{"spectrum":"glass","ppm":-1340,"intensity":1.40},{"spectrum":"glass","ppm":-1390,"intensity":1.50},{"spectrum":"glass","ppm":-1428,"intensity":1.47},{"spectrum":"glass","ppm":-1465,"intensity":1.52},{"spectrum":"glass","ppm":-1528,"intensity":1.47},{"spectrum":"glass","ppm":-1590,"intensity":1.40},{"spectrum":"glass","ppm":-1652,"intensity":1.45},{"spectrum":"glass","ppm":-1715,"intensity":1.35},{"spectrum":"glass","ppm":-1765,"intensity":1.07},{"spectrum":"glass","ppm":-1827,"intensity":1.35},{"spectrum":"glass","ppm":-1890,"intensity":1.04},{"spectrum":"glass","ppm":-1952,"intensity":1.20},{"spectrum":"glass","ppm":-2015,"intensity":1.10},{"spectrum":"glass","ppm":-2077,"intensity":1.27},{"spectrum":"glass","ppm":-2139,"intensity":1.40},{"spectrum":"glass","ppm":-2177,"intensity":1.27},{"spectrum":"glass","ppm":-2239,"intensity":1.37},{"spectrum":"glass","ppm":-2302,"intensity":1.27},{"spectrum":"glass","ppm":-2364,"intensity":1.49},{"spectrum":"glass","ppm":-2402,"intensity":1.30},{"spectrum":"glass","ppm":-2464,"intensity":0.90},{"spectrum":"glass","ppm":-2527,"intensity":0.77},{"spectrum":"glass","ppm":-2589,"intensity":1.00},{"spectrum":"glass","ppm":-2651,"intensity":1.30},{"spectrum":"glass","ppm":-2714,"intensity":1.07},{"spectrum":"glass","ppm":-2776,"intensity":0.97},{"spectrum":"glass","ppm":-2826,"intensity":1.20},{"spectrum":"glass","ppm":-2889,"intensity":0.95},{"spectrum":"glass","ppm":-2951,"intensity":1.37},{"spectrum":"glass","ppm":-3013,"intensity":1.27},{"spectrum":"glass","ppm":-3076,"intensity":1.30},{"spectrum":"glass","ppm":-3138,"intensity":1.20},{"spectrum":"glass","ppm":-3201,"intensity":1.30},{"spectrum":"glass","ppm":-3263,"intensity":1.35},{"spectrum":"glass","ppm":-3301,"intensity":1.04},{"spectrum":"glass","ppm":-3363,"intensity":1.02},{"spectrum":"glass","ppm":-3426,"intensity":1.14},{"spectrum":"glass","ppm":-3463,"intensity":1.04},{"spectrum":"glass","ppm":-3526,"intensity":1.45},{"spectrum":"glass","ppm":-3588,"intensity":1.37},{"spectrum":"glass","ppm":-3650,"intensity":1.40},{"spectrum":"glass","ppm":-3713,"intensity":1.05},{"spectrum":"glass","ppm":-3775,"intensity":1.17},{"spectrum":"glass","ppm":-3838,"intensity":1.32},{"spectrum":"glass","ppm":-3900,"intensity":1.35},{"spectrum":"glass","ppm":-3963,"intensity":1.25},{"spectrum":"glass","ppm":-4000,"intensity":1.27}
    ],
    "markers": [
      {"ppm": 4400, "intensity": 9.34, "intensity2": 8.35},
      {"ppm": 1380, "intensity": 8.65, "intensity2": 7.69},
      {"ppm": 1200, "intensity": 3.78, "intensity2": 2.77},
      {"ppm": 720, "intensity": 11.34, "intensity2": 10.55}
    ],
    "arrowhead": [
      {"ppm": 720, "intensity": 10.50}
    ],
    "crystalNames": [
      {"ppm": 7463, "intensity": 9.28, "label": "⁽⁶⁾CoCaSi₂O₆\ncrystal"},
      {"ppm": -54, "intensity": 9.28, "label": "⁽⁴⁾CoCa₂Si₂O₇\ncrystal"}
    ],
    "glassName": [
      {"ppm": -1490, "intensity": 3.10, "label": "CoCaSi₂O₆\nglass"}
    ],
    "values": [
      {"ppm": 4400, "intensity": 7.91, "label": "4400"},
      {"ppm": 1380, "intensity": 7.26, "label": "1380"},
      {"ppm": 1200, "intensity": 2.32, "label": "1200"}
    ],
    "site": [
      {"ppm": 720, "intensity": 11.56, "label": "Ol"}
    ]
  },
  "encoding": {
    "x": {
      "field": "ppm",
      "type": "quantitative",
      "scale": {"domain": [-4000, 8000], "reverse": true, "nice": false, "zero": false},
      "axis": {
        "values": [-4000,-3500,-3000,-2500,-2000,-1500,-1000,-500,0,500,1000,1500,2000,2500,3000,3500,4000,4500,5000,5500,6000,6500,7000,7500,8000],
        "labelExpr": "datum.value % 2000 === 0 ? '' + datum.value : ''",
        "tickSize": {"condition": {"test": "datum.value % 2000 === 0", "value": -15}, "value": -8},
        "tickWidth": 2,
        "tickColor": "black",
        "domainWidth": 2,
        "domainColor": "black",
        "grid": false,
        "labelFont": "Liberation Sans",
        "labelFontSize": 31,
        "labelColor": "black",
        "labelPadding": 38,
        "labelFlush": false,
        "labelOverlap": false,
        "labelBound": false,
        "title": "ppm",
        "titleFont": "Liberation Sans",
        "titleFontSize": 31,
        "titleFontWeight": "normal",
        "titleColor": "black",
        "titleX": 564,
        "titleY": 74,
        "titleBaseline": "alphabetic"
      }
    },
    "y": {
      "field": "intensity",
      "type": "quantitative",
      "scale": {"domain": [0, 11.87], "nice": false, "zero": false},
      "axis": null
    }
  },
  "layer": [
    {
      "data": {"name": "spectra"},
      "mark": {"type": "line", "color": "black", "strokeWidth": 4, "strokeJoin": "round", "strokeCap": "round"},
      "encoding": {"detail": {"field": "spectrum"}}
    },
    {
      "data": {"name": "markers"},
      "mark": {"type": "rule", "color": "black", "strokeWidth": 3},
      "encoding": {"y2": {"field": "intensity2"}}
    },
    {
      "data": {"name": "arrowhead"},
      "mark": {"type": "point", "shape": "M-1,-0.9L1,-0.9L0,1Z", "size": 256, "filled": true, "color": "black", "opacity": 1, "strokeWidth": 0}
    },
    {
      "data": {"name": "crystalNames"},
      "mark": {"type": "text", "font": "Noto Sans", "fontSize": 30, "lineBreak": "\n", "lineHeight": 37, "align": "left", "baseline": "alphabetic", "color": "black"},
      "encoding": {"text": {"field": "label"}}
    },
    {
      "data": {"name": "glassName"},
      "mark": {"type": "text", "font": "Noto Sans", "fontSize": 30, "lineBreak": "\n", "lineHeight": 38, "align": "left", "baseline": "alphabetic", "color": "black"},
      "encoding": {"text": {"field": "label"}}
    },
    {
      "data": {"name": "values"},
      "mark": {"type": "text", "font": "Noto Sans", "fontSize": 27, "align": "center", "baseline": "alphabetic", "color": "black"},
      "encoding": {"text": {"field": "label"}}
    },
    {
      "data": {"name": "site"},
      "mark": {"type": "text", "font": "Noto Sans", "fontSize": 28, "align": "center", "baseline": "alphabetic", "color": "black"},
      "encoding": {"text": {"field": "label"}}
    }
  ]
}
